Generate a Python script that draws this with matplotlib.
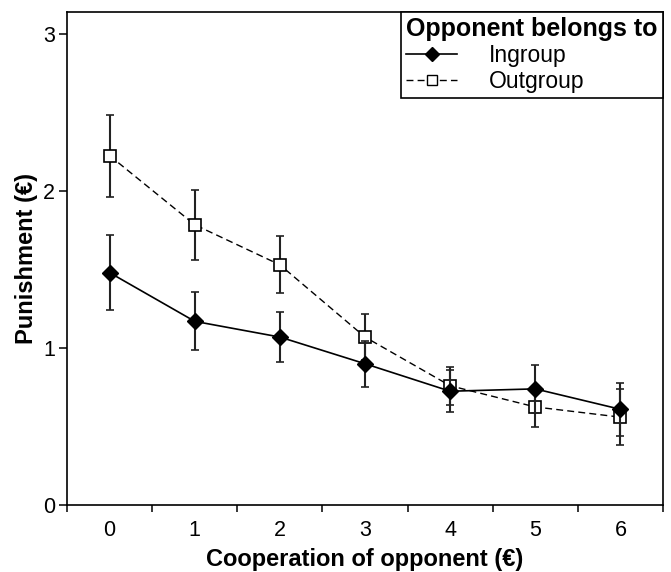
import matplotlib.pyplot as plt
from matplotlib.lines import Line2D

plt.rcParams['font.family'] = ['Liberation Sans', 'DejaVu Sans']

cooperation = [0, 1, 2, 3, 4, 5, 6]
ingroup = [1.48, 1.17, 1.07, 0.90, 0.725, 0.74, 0.61]
ingroup_err = [0.237, 0.185, 0.16, 0.146, 0.133, 0.153, 0.167]
outgroup = [2.225, 1.785, 1.53, 1.07, 0.76, 0.625, 0.56]
outgroup_err = [0.262, 0.222, 0.182, 0.148, 0.12, 0.13, 0.18]

fig = plt.figure(figsize=(6.71, 5.72), dpi=100)
ax = fig.add_axes([0.100, 0.117, 0.888, 0.862])

dash = (0, (5, 3))
ax.errorbar(cooperation, outgroup, yerr=outgroup_err, color='black', lw=1,
            ls=dash, marker='s', ms=8.5, mfc='white', mec='black', mew=1.2,
            ecolor='#222222', elinewidth=1.5, capsize=2.7, capthick=1.2,
            zorder=2)
ax.errorbar(cooperation, ingroup, yerr=ingroup_err, color='black', lw=1.2,
            ls='-', marker='D', ms=8.5, mfc='black', mec='black',
            ecolor='#222222', elinewidth=1.5, capsize=2.7, capthick=1.2,
            zorder=3)

ax.set_xlim(-0.5, 6.5)
ax.set_ylim(0, 3.14)
ax.set_yticks([0, 1, 2, 3])
ax.set_xticks([i - 0.5 for i in range(8)])
ax.set_xticklabels([])
ax.set_xticks(cooperation, minor=True)
ax.set_xticklabels([str(c) for c in cooperation], minor=True)
ax.tick_params(axis='x', which='minor', length=0, labelsize=15.5, pad=11)
ax.tick_params(axis='x', which='major', length=5.3, width=1.1)
ax.tick_params(axis='y', length=5.5, width=1.1, labelsize=15.5, pad=3)
for s in ax.spines.values():
    s.set_linewidth(1.2)

ax.set_xlabel('Cooperation of opponent (€)', fontsize=17, fontweight='bold', labelpad=5)
ax.set_ylabel('Punishment (€)', fontsize=17, fontweight='bold', labelpad=4)

handles = [
    Line2D([], [], color='black', lw=1.2, marker='D', ms=7, mfc='black'),
    Line2D([], [], color='black', lw=1, ls=dash, marker='s', ms=7, mfc='white', mew=1),
]
leg = ax.legend(handles, ['Ingroup', 'Outgroup'], title='Opponent belongs to',
                loc='upper right', bbox_to_anchor=(1.0, 1.0), fontsize=16.5,
                title_fontsize=18, frameon=True, fancybox=False, edgecolor='black',
                framealpha=1, borderaxespad=0, handlelength=2.2, handletextpad=1.4,
                labelspacing=0.12, borderpad=0.22)
leg.get_title().set_fontweight('bold')
leg._legend_box.align = 'left'
leg.get_frame().set_linewidth(1.2)

fig.savefig('out.png', dpi=100)
